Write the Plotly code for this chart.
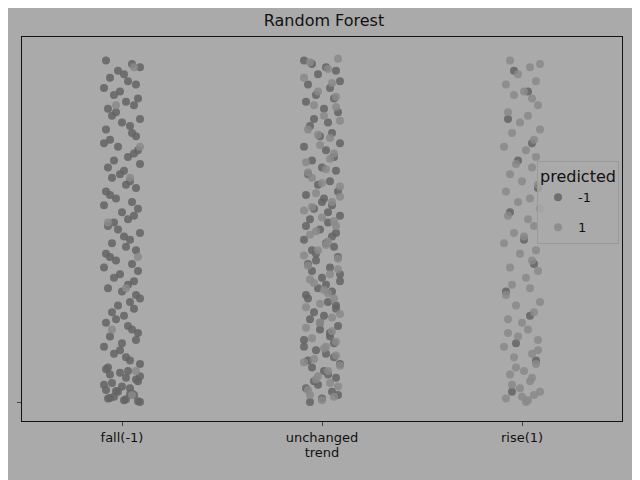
import plotly.graph_objects as go

categories = ["fall(-1)", "unchanged", "rise(1)"]

# fall(-1): jitter offset, value
fall_dx_neg = [-0.08, 0.05, -0.02, 0.09, -0.06, 0.01, 0.07, -0.09, 0.03, -0.04, 0.08, -0.01, 0.06, -0.07, 0.02,
               -0.05, 0.09, -0.03, 0.04, -0.08, 0.00, 0.07, -0.06, 0.05, -0.02, 0.08, -0.09, 0.03, -0.04, 0.06,
               -0.07, 0.01, 0.09, -0.05, 0.04, -0.01, 0.07, -0.08, 0.02, -0.03, 0.05, -0.06, 0.08, 0.00, -0.09,
               0.03, -0.04, 0.06, -0.02, 0.09, -0.07, 0.04, -0.05, 0.01, 0.07, -0.08, 0.02, -0.03, 0.05, -0.06,
               0.08, -0.01, -0.09, 0.06, 0.03, -0.04, 0.00, 0.07, -0.07, 0.04, -0.02, 0.09, -0.05, 0.01, 0.06,
               -0.08, 0.03, -0.03, 0.08, -0.06, 0.05, 0.00, -0.09, 0.07, -0.04, 0.02, -0.01, 0.09, -0.07, 0.04]
fall_y_neg = [99, 98, 96, 97, 94, 95, 92, 91, 93, 89, 88, 90, 86, 85, 87, 83, 82, 84, 80, 79, 81, 77, 76, 78,
              74, 73, 75, 71, 70, 72, 68, 67, 69, 65, 64, 66, 62, 61, 63, 59, 58, 60, 56, 55, 57, 53, 52, 54,
              50, 49, 51, 47, 46, 48, 44, 43, 45, 41, 40, 42, 38, 37, 39, 35, 34, 36, 32, 31, 33, 29, 28, 30,
              26, 25, 27, 23, 22, 24, 20, 19, 21, 17, 16, 18, 14, 13, 15, 11, 10, 12]
fall_dx_pos = [0.06, -0.03, 0.09, 0.04, -0.07, 0.08, 0.02, -0.05, 0.07, 0.05]
fall_y_pos = [97, 86, 74, 65, 52, 42, 33, 21, 9, 2]
fall_dx_neg2 = [-0.06, 0.02, 0.08, -0.09, 0.04, -0.02, 0.06, -0.07, 0.01, 0.09, -0.04, 0.05, -0.08, 0.03, -0.01,
                0.07, -0.05, 0.00, 0.08, -0.06, 0.04, -0.03, 0.09, -0.08, 0.02]
fall_y_neg2 = [8, 7, 6, 5, 4, 3, 2, 1, 0.5, 0, 1.5, 2.5, 3.5, 9, 8.5, 6.5, 5.5, 4.5, 0.2, 1.2, 2.2, 3.2, 7.5, 9.5, 0.8]

# unchanged
unch_dx_neg = [-0.09, -0.05, 0.02, 0.07, -0.02, 0.09, -0.07, 0.04, -0.03, 0.06, -0.08, 0.01, 0.08, -0.04, 0.03,
               -0.06, 0.05, -0.01, 0.09, -0.09, 0.02, 0.06, -0.05, 0.00, 0.07, -0.07, 0.04, -0.02, 0.08, -0.08,
               0.01, 0.05, -0.04, 0.09, -0.06, 0.03, -0.01, 0.07, -0.09, 0.02, 0.06, -0.03, 0.08, -0.07, 0.04,
               -0.05, 0.00, 0.09, -0.02, 0.05, -0.08, 0.03, 0.07, -0.04, 0.01, -0.06, 0.08, -0.01, 0.04, -0.09,
               0.06, -0.03, 0.02, -0.07, 0.09, -0.05, 0.03, 0.07, -0.02, -0.08, 0.05, 0.00, -0.06, 0.08, -0.04,
               0.01, 0.06, -0.09, 0.04, -0.01, 0.07, -0.07, 0.02, 0.09, -0.03, -0.05, 0.05, -0.08, 0.03, 0.00]
unch_y_neg = [99, 98, 97, 96, 95, 93, 92, 91, 89, 88, 87, 85, 84, 82, 81, 80, 78, 77, 75, 74, 73, 71, 70, 68,
              67, 66, 64, 63, 61, 60, 59, 57, 56, 54, 53, 52, 50, 49, 47, 46, 45, 43, 42, 40, 39, 38, 36, 35,
              33, 32, 31, 29, 28, 26, 25, 24, 22, 21, 19, 18, 17, 15, 14, 12, 11, 10, 8, 7, 5, 4, 3, 1, 0, 2,
              6, 9, 13, 16, 20, 23, 27, 30, 34, 37, 41, 44, 48, 51, 55, 58]
unch_dx_pos = [0.08, -0.06, 0.03, -0.09, 0.05, -0.02, 0.07, -0.04, 0.01, 0.09, -0.07, 0.04, -0.01, 0.06, -0.08,
               0.02, -0.05, 0.09, -0.03, 0.05, -0.09, 0.00, 0.07, -0.06, 0.03, -0.02, 0.08, -0.07, 0.04, -0.04,
               0.01, 0.06, -0.08, 0.09, -0.01, 0.05, -0.05, 0.02, 0.07, -0.09, 0.03, -0.03, 0.08, -0.06, 0.00,
               0.06, -0.07, 0.04, -0.02, 0.09, -0.04, 0.01, 0.07, -0.08, 0.05, -0.01, 0.03, -0.06, 0.08, -0.09,
               0.02, -0.03, 0.06, -0.05, 0.09, 0.00, -0.07, 0.04, -0.02, 0.07]
unch_y_pos = [99.5, 98.5, 96.5, 94, 92.5, 90, 88.5, 86, 83, 81.5, 79, 76.5, 74.5, 72, 69.5, 67.5, 65, 62.5, 60.5,
              58, 55.5, 53.5, 51, 48.5, 46.5, 44, 41.5, 39.5, 37, 34.5, 32.5, 30, 27.5, 25.5, 23, 20.5, 18.5,
              16, 13.5, 11.5, 9, 6.5, 4.5, 2, 0.5, 1.5, 3.5, 5.5, 7.5, 10.5, 12.5, 15.5, 17.5, 21.5, 24.5,
              28.5, 31.5, 35.5, 38.5, 42.5, 45.5, 49.5, 52.5, 56.5, 59.5, 63.5, 66.5, 70.5, 77.5, 85.5]

# rise(1)
rise_dx_pos = [-0.06, 0.04, 0.09, -0.02, 0.07, -0.08, 0.01, 0.05, -0.04, 0.08, -0.07, 0.03, -0.01, 0.09, -0.05,
               0.06, -0.09, 0.02, 0.07, -0.03, 0.05, -0.06, 0.00, 0.08, -0.08, 0.04, -0.02, 0.09, -0.07, 0.03,
               0.06, -0.04, 0.01, -0.09, 0.07, -0.01, 0.05, -0.06, 0.08, 0.02, -0.05, 0.04, -0.08, 0.09, -0.03,
               0.06, -0.07, 0.00, 0.03, -0.02, 0.08, -0.09, 0.05, -0.04, 0.07, 0.01, -0.06, 0.04, -0.01, 0.09,
               -0.08, 0.02, 0.06, -0.05, 0.03, -0.03, 0.08, -0.07, 0.00, 0.05]
rise_y_pos = [99, 97, 98, 95, 93, 92, 90, 88, 89, 86, 84, 83, 81, 79, 78, 76, 74, 73, 71, 69, 68, 66, 64, 63,
              61, 59, 58, 56, 54, 53, 51, 49, 48, 46, 44, 43, 41, 39, 38, 36, 34, 33, 31, 29, 28, 26, 24, 23,
              21, 19, 18, 16, 14, 13, 11, 9, 8, 6, 4, 3, 1, 0, 2, 5, 0.5, 10, 15, 20, 1.5, 7]
rise_dx_neg = [-0.04, 0.03, -0.07, 0.05, -0.02, 0.08, -0.06, 0.01, 0.06, -0.08, 0.04, -0.03, 0.07, -0.05]
rise_y_neg = [96, 90, 82, 75, 70, 62, 55, 47, 40, 32, 25, 17, 12, 3]

dark = "rgba(100,100,100,0.85)"
light = "rgba(138,138,138,0.85)"

fig = go.Figure()
groups = [
    (0, fall_dx_neg + fall_dx_neg2, fall_y_neg + fall_y_neg2, dark, "-1", True),
    (1, unch_dx_neg, unch_y_neg, dark, "-1", False),
    (2, rise_dx_neg, rise_y_neg, dark, "-1", False),
    (0, fall_dx_pos, fall_y_pos, light, "1", True),
    (1, unch_dx_pos, unch_y_pos, light, "1", False),
    (2, rise_dx_pos, rise_y_pos, light, "1", False),
]
for pos, dx, ys, col, name, show in groups:
    fig.add_trace(go.Scatter(
        x=[pos + d for d in dx], y=ys, mode="markers", name=name, legendgroup=name,
        showlegend=show, marker=dict(size=8, color=col, line=dict(width=0))))

fig.update_layout(
    width=632, height=472,
    paper_bgcolor="#aaaaaa", plot_bgcolor="#aaaaaa",
    margin=dict(l=10, r=18, t=29, b=59),
    title=dict(text="Random Forest", x=0.5, y=0.985, xanchor="center", yanchor="top",
               font=dict(family="DejaVu Sans", size=16, color="#111")),
    font=dict(family="DejaVu Sans", size=13, color="#111"),
    legend=dict(title=dict(text="predicted"), x=0.995, y=0.57, xanchor="right", yanchor="middle",
                bgcolor="rgba(170,170,170,0.8)", bordercolor="#999", borderwidth=1,
                font=dict(size=13)),
    showlegend=True,
)
fig.update_xaxes(range=[-0.5, 2.5], tickvals=[0, 1, 2], ticktext=categories, title_text="trend",
                 title_font=dict(size=13),
                 showgrid=False, zeroline=False, showline=True, linecolor="#111", mirror=True,
                 ticks="outside", ticklen=4, title_standoff=2)
fig.update_yaxes(range=[-5.5, 105.8], tickvals=[0], ticktext=[""], showgrid=False, zeroline=False,
                 showline=True, linecolor="#111", mirror=True, ticks="outside", ticklen=4)

fig.write_html("out.html")
